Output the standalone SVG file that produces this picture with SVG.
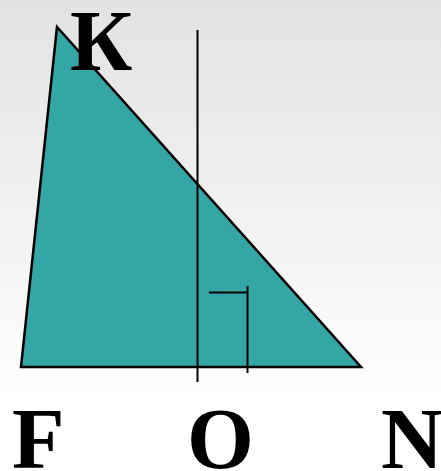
<svg xmlns="http://www.w3.org/2000/svg" width="441" height="471" viewBox="0 0 441 471">
<defs>
<linearGradient id="bg" x1="0" y1="0" x2="0" y2="1">
<stop offset="0" stop-color="#e2e2e2"/>
<stop offset="0.85" stop-color="#ffffff"/>
<stop offset="1" stop-color="#ffffff"/>
</linearGradient>
<style>
.ln{stroke:#000;stroke-width:2;fill:none}
</style>
</defs>
<rect x="0" y="0" width="441" height="471" fill="url(#bg)"/>
<g id="triangle">
<polygon points="57,27 21,367 361,367" fill="#35a6a6" stroke="#000" stroke-width="2.5" stroke-linejoin="miter"/>
</g>
<g id="connectors">
<line class="ln" x1="197.5" y1="30" x2="197.5" y2="382"/>
<polyline class="ln" points="209,292.5 247.5,292.5"/>
<line class="ln" x1="247.5" y1="286" x2="247.5" y2="373"/>
</g>
<g font-family="Liberation Serif, serif" font-weight="bold" font-size="86" fill="#000">
<g id="label-K"><text x="70" y="70">К</text></g>
<g id="label-F"><text x="12" y="468">F</text></g>
<g id="label-O"><text x="187" y="468">O</text></g>
<g id="label-N"><text x="381" y="468">N</text></g>
</g>
</svg>
